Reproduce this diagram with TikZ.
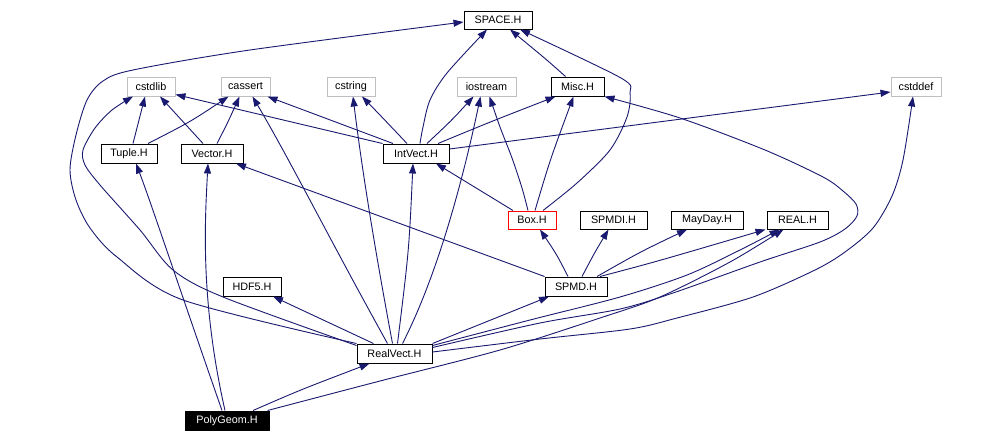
\documentclass[tikz,border=0pt]{standalone}
\usepackage{fontspec}
\setmainfont{Liberation Sans}
\usetikzlibrary{arrows.meta}
\definecolor{edgec}{HTML}{191970}
\definecolor{grayb}{HTML}{BFBFBF}
\tikzset{
 hbox/.style={draw=black, line width=1pt, minimum height=19pt, inner sep=0pt, font=\fontsize{10.8}{12}\selectfont, fill=white},
 sysbox/.style={hbox, draw=grayb},
 redbox/.style={hbox, draw=red},
 rootbox/.style={hbox, fill=black, text=white},
 edge/.style={draw=edgec, line width=0.9pt, -{Triangle[length=10pt,width=7pt]}},
}
\begin{document}
\begin{tikzpicture}[x=1pt,y=-1pt]
\path[use as bounding box, fill=white] (0,0) rectangle (982,442);
% nodes
\node[hbox, minimum width=68pt, minimum height=18pt] (SPACE) at (498,20) {SPACE.H};
\node[sysbox, minimum width=48pt] (cstdlib) at (151,86.5) {cstdlib};
\node[sysbox, minimum width=49pt] (cassert) at (245.5,86.5) {cassert};
\node[sysbox, minimum width=48pt] (cstring) at (351,86.5) {cstring};
\node[sysbox, minimum width=59pt] (iostream) at (486.5,86.5) {iostream};
\node[hbox, minimum width=53pt] (Misc) at (577.5,86.5) {Misc.H};
\node[sysbox, minimum width=50pt] (cstddef) at (916,86.5) {cstddef};
\node[hbox, minimum width=56pt] (Tuple) at (129,153.5) {Tuple.H};
\node[hbox, minimum width=62pt] (Vector) at (212,153.5) {Vector.H};
\node[hbox, minimum width=66pt] (IntVect) at (416,153.5) {IntVect.H};
\node[redbox, minimum width=48pt, minimum height=18pt] (Box) at (532,220) {Box.H};
\node[hbox, minimum width=67pt, minimum height=18pt] (SPMDI) at (613.5,220) {SPMDI.H};
\node[hbox, minimum width=72pt, minimum height=18pt] (MayDay) at (707,220) {MayDay.H};
\node[hbox, minimum width=61pt, minimum height=18pt] (REAL) at (797.5,220) {REAL.H};
\node[hbox, minimum width=58pt] (HDF5) at (252,286.5) {HDF5.H};
\node[hbox, minimum width=62pt] (SPMD) at (576,286.5) {SPMD.H};
\node[hbox, minimum width=75pt] (RealVect) at (394.5,353.5) {RealVect.H};
\node[rootbox, minimum width=84pt] (PolyGeom) at (227,420.5) {PolyGeom.H};
% edges to SPACE
\draw[edge] ([xshift=-12pt]Misc.north) .. controls (547,60) .. ([xshift=12pt]SPACE.south);
\draw[edge] plot[smooth] coordinates {([xshift=4pt]IntVect.north) (423,127) (430,100) (447,73) ([xshift=-11pt]SPACE.south)};
\draw[edge] plot[smooth] coordinates {([xshift=11pt]Box.north) (577,183) (610,150) (627,117) (630,93) (621,78) ([xshift=22pt]SPACE.south)};
\draw[edge] plot[smooth] coordinates {(RealVect.north west) (183,300) (117,257) (90,228) (76,200) (70,170) (76,135) (87,100) (103,81) (133,70) (250,50) ([yshift=-2pt]SPACE.west)};
% cstdlib / cassert
\draw[edge] plot[smooth] coordinates {([yshift=-2pt]RealVect.north west) (223,297) (173,270) (140,230) (100,185) (85,165) (83,150) (95,128) (112,110) ([xshift=-18pt]cstdlib.south)};
\draw[edge] ([xshift=4pt]Tuple.north) -- ([xshift=-6pt]cstdlib.south);
\draw[edge] ([xshift=19pt]Tuple.north) .. controls (190,122) .. ([xshift=-17pt]cassert.south);
\draw[edge] ([xshift=-9pt]Vector.north) -- ([xshift=9pt]cstdlib.south);
\draw[edge] ([xshift=5pt]Vector.north) .. controls (228,122) .. ([xshift=-6pt]cassert.south);
% IntVect
\draw[edge] (IntVect.north west) -- ([yshift=2pt]cstdlib.south east);
\draw[edge] ([xshift=-23pt]IntVect.north) -- ([xshift=22pt]cassert.south);
\draw[edge] ([xshift=-9pt]IntVect.north) .. controls (380,115) .. ([xshift=11pt]cstring.south);
\draw[edge] ([xshift=11pt]IntVect.north) .. controls (452,120) .. ([xshift=-13pt]iostream.south);
\draw[edge] ([xshift=22pt]IntVect.north) .. controls (490,122) .. ([xshift=-22pt]Misc.south);
\draw[edge] ([yshift=4.5pt]IntVect.east) -- ([yshift=-5.5pt]cstddef.west);
% Box
\draw[edge] ([xshift=-19pt]Box.north) -- ([xshift=20pt]IntVect.south);
\draw[edge] plot[smooth] coordinates {([xshift=-4pt]Box.north) (522,188) (512,158) (500,127) ([xshift=3pt]iostream.south)};
\draw[edge] ([xshift=3pt]Box.north) .. controls (550,160) .. ([xshift=-4pt]Misc.south);
% SPMD
\draw[edge] ([xshift=-8pt]SPMD.north) .. controls (557,255) .. ([xshift=8pt]Box.south);
\draw[edge] ([xshift=6pt]SPMD.north) .. controls (595,252) .. ([xshift=-5pt]SPMDI.south);
\draw[edge] ([xshift=21pt]SPMD.north) .. controls (640,252) .. ([xshift=-20pt]MayDay.south);
\draw[edge] ([xshift=24pt]SPMD.north) .. controls (655,262) .. ([xshift=-1pt]REAL.south west);
\draw[edge] (SPMD.north west) -- ([xshift=24pt]Vector.south);
% RealVect
\draw[edge] ([xshift=-21pt]RealVect.north) -- ([xshift=21pt]HDF5.south);
\draw[edge] (RealVect.north east) -- ([xshift=-27pt]SPMD.south);
\draw[edge] ([xshift=3pt]RealVect.north) .. controls (409,250) .. ([xshift=-3pt]IntVect.south);
\draw[edge] ([xshift=-7pt]RealVect.north) .. controls (330,240) and (290,160) .. ([xshift=7pt]cassert.south);
\draw[edge] ([xshift=-2pt]RealVect.north) .. controls (375,250) and (362,170) .. ([xshift=2pt]cstring.south);
\draw[edge] ([xshift=8pt]RealVect.north) .. controls (440,270) and (465,170) .. ([xshift=-6pt]iostream.south);
\draw[edge] plot[smooth] coordinates {([yshift=8pt]RealVect.east) (530,320) (620,297) (687,275) (740,250) ([xshift=-18pt]REAL.south)};
\draw[edge] plot[smooth] coordinates {([yshift=6pt]RealVect.east) (540,323) (620,309) (673,293) (760,262) (820,242) (845,229) (857,216) (856,204) (843,191) (823,177) (765,150) (680,118) (Misc.south east)};
\draw[edge] plot[smooth] coordinates {([yshift=1.5pt]RealVect.east) (540,339) (630,329) (677,318) (753,297) (815,270) (845,252) (873,228) (892,196) (903,160) ([xshift=-3pt]cstddef.south)};
% PolyGeom
\draw[edge] ([xshift=26pt]PolyGeom.north) .. controls (300,390) .. ([xshift=-25pt]RealVect.south);
\draw[edge] plot[smooth] coordinates {([xshift=-2pt]PolyGeom.north east) (380,381) (500,350) (600,318) (660,297) (730,262) ([xshift=-14pt]REAL.south)};
\draw[edge] ([xshift=-5pt]PolyGeom.north) .. controls (180,290) and (150,200) .. ([xshift=7pt]Tuple.south);
\draw[edge] ([xshift=-2pt]PolyGeom.north) .. controls (200,300) and (205,220) .. ([xshift=-4pt]Vector.south);
\end{tikzpicture}
\end{document}
